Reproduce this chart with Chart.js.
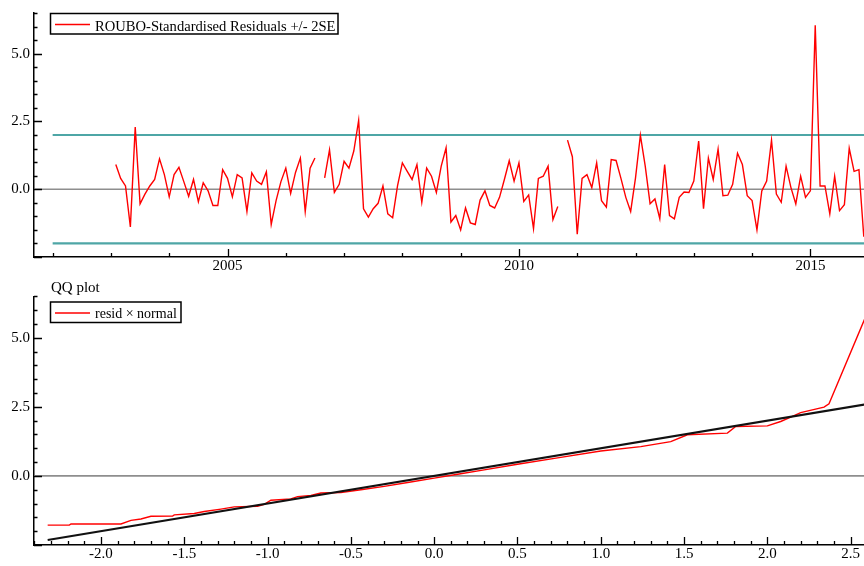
<!DOCTYPE html>
<html>
<head>
<meta charset="utf-8">
<script src="https://cdn.jsdelivr.net/npm/chart.js@4.4.0/dist/chart.umd.min.js"></script>
<style>
  html, body { margin: 0; padding: 0; background: #fff; overflow: hidden; }
  #wrap { position: relative; width: 864px; height: 566px; }
  canvas { position: absolute; left: 0; display: block; }
  #resChart { top: 0; }
  #qqChart { top: 278px; }
</style>
</head>
<body>
<div id="wrap">
  <canvas id="resChart" width="864" height="278"></canvas>
  <canvas id="qqChart" width="864" height="288"></canvas>
</div>
<script>
// ---- data ----
// monthly standardised residuals, first observation 2003(2); null = missing
const firstYear = 2003;
const firstMonth = 2;
const residuals = [
   0.91,  0.40,  0.12, -1.39,  2.29, -0.54, -0.18,  0.12,  0.36,  1.12,
   0.54, -0.28,  0.54,  0.81,  0.28, -0.26,  0.36, -0.46,  0.24, -0.06,
  -0.60, -0.60,  0.72,  0.40, -0.28,  0.54,  0.42, -0.82,  0.60,  0.30,
   0.18,  0.64, -1.30, -0.42,  0.28,  0.78, -0.15,  0.62,  1.15, -0.82,
   0.78,  1.15,  null,  0.42,  1.45, -0.12,  0.18,  1.03,  0.78,  1.41,
   2.54, -0.72, -1.03, -0.72, -0.52,  0.12, -0.91, -1.05,  0.12,  0.97,
   0.66,  0.36,  0.91, -0.48,  0.78,  0.48, -0.12,  0.85,  1.53, -1.21,
  -0.97, -1.50, -0.69, -1.24, -1.30, -0.40, -0.06, -0.60, -0.69, -0.30,
   0.36,  1.05,  0.30,  0.97, -0.45, -0.21, -1.45,  0.40,  0.48,  0.85,
  -1.12, -0.64,  null,  1.81,  1.20, -1.66,  0.40,  0.54,  0.06,  0.97,
  -0.42, -0.66,  1.09,  1.06,  0.40, -0.30, -0.82,  0.42,  1.99,  0.85,
  -0.54, -0.36, -1.09,  0.91, -0.97, -1.09, -0.30, -0.10, -0.12,  0.30,
   1.78, -0.72,  1.15,  0.36,  1.48, -0.24, -0.22,  0.18,  1.33,  0.91,
  -0.24, -0.42, -1.50, -0.06,  0.30,  1.81, -0.18, -0.48,  0.85,  0.06,
  -0.54,  0.48, -0.30, -0.06,  6.05,  0.12,  0.12, -0.91,  0.48, -0.79,
  -0.57,  1.51,  0.66,  0.72, -1.75
];
const seBand = 2;                 // +/- 2SE
const bandYears = [2002, 2016.5];
const yearRange = [2001.68, 2015.92];
const yearTickStep = 1;
const yearLabelEvery = 5;

// QQ plot: normal quantiles against sorted residuals
const qqNormal = [
  -2.32, -2.19, -2.18, -1.88, -1.82, -1.76, -1.70, -1.57, -1.56, -1.44,
  -1.38, -1.28, -1.20, -1.06, -1.02, -0.98, -0.86, -0.82, -0.74, -0.68,
  -0.56, -0.44, -0.30, -0.15,  0.00,  0.15,  0.30,  0.50,  0.75,  1.00,
   1.24,  1.42,  1.52,  1.76,  1.81,  2.00,  2.08,  2.14,  2.20,  2.34,
   2.37,  2.61
];
const qqResid = [
  -1.78, -1.78, -1.74, -1.74, -1.61, -1.56, -1.46, -1.45, -1.41, -1.36,
  -1.29, -1.20, -1.12, -1.10, -1.03, -0.88, -0.83, -0.75, -0.71, -0.62,
  -0.60, -0.50, -0.38, -0.23, -0.08,  0.07,  0.22,  0.42,  0.66,  0.90,
   1.06,  1.24,  1.49,  1.55,  1.79,  1.81,  1.97,  2.13,  2.29,  2.49,
   2.61,  6.05
];
const qqLineEnds = [-2.32, 2.64];
const qqRange = [-2.402, 2.58];
const qqTickStep = 0.1;
const qqLabelEvery = 0.5;

const valueRange = [-2.5, 6.5];
const valueTickStep = 0.5;
const valueLabelEvery = 2.5;

// ---- helpers ----
const SERIF = "'Liberation Serif', 'Times New Roman', serif";
Chart.defaults.font.family = SERIF;
Chart.defaults.font.size = 15;
Chart.defaults.color = '#000';

const isMultiple = (v, step) => Math.abs(v / step - Math.round(v / step)) < 1e-6;

const residPoints = residuals.map((v, i) => ({
  x: firstYear + (firstMonth - 1) / 12 + i / 12,
  y: v
}));

// short inward tick marks; longer ones where a label sits
const inwardTicks = {
  id: 'inwardTicks',
  afterDatasetsDraw(chart, args, o) {
    const { ctx, chartArea: a } = chart;
    const xs = chart.scales.x, ys = chart.scales.y;
    ctx.save();
    ctx.strokeStyle = '#000';
    ctx.lineWidth = 1.3;
    ctx.beginPath();
    for (const t of ys.ticks) {
      const p = Math.round(ys.getPixelForValue(t.value)) + 0.5;
      const len = isMultiple(t.value, o.yMajor) ? 8 : 3.5;
      ctx.moveTo(a.left, p);
      ctx.lineTo(a.left + len, p);
    }
    for (const t of xs.ticks) {
      const p = Math.round(xs.getPixelForValue(t.value)) + 0.5;
      const len = isMultiple(t.value, o.xMajor) ? 8 : 4;
      ctx.moveTo(p, a.bottom);
      ctx.lineTo(p, a.bottom - len);
    }
    ctx.stroke();
    ctx.restore();
  }
};

// framed legend inside the plot, plus an optional heading above the plot
const framedLegend = {
  id: 'framedLegend',
  afterDraw(chart, args, o) {
    const ctx = chart.ctx;
    const ds = chart.data.datasets[o.datasetIndex];
    ctx.save();
    if (o.heading) {
      ctx.font = '15px ' + SERIF;
      ctx.fillStyle = '#000';
      ctx.textBaseline = 'alphabetic';
      ctx.fillText(o.heading, o.headingX, o.headingY);
    }
    ctx.strokeStyle = '#000';
    ctx.lineWidth = 1.5;
    ctx.strokeRect(o.left, o.top, o.width, o.height);
    ctx.strokeStyle = ds.borderColor;
    ctx.lineWidth = 1.5;
    ctx.beginPath();
    ctx.moveTo(o.left + 4.5, o.top + 11);
    ctx.lineTo(o.left + 39.5, o.top + 11);
    ctx.stroke();
    ctx.font = o.fontSize + 'px ' + SERIF;
    ctx.fillStyle = '#000';
    ctx.textBaseline = 'alphabetic';
    ctx.fillText(ds.label, o.left + 44.5, o.top + o.baseline);
    ctx.restore();
  }
};

function axisX(range, step, labelEvery, height) {
  return {
    type: 'linear',
    min: range[0],
    max: range[1],
    afterFit: s => { s.height = height; },
    grid: { display: false, drawTicks: false },
    border: { display: true, color: '#000', width: 1.5 },
    ticks: {
      stepSize: step,
      includeBounds: false,
      autoSkip: false,
      maxRotation: 0,
      padding: 0,
      callback: v => isMultiple(v, labelEvery) ? (labelEvery < 1 ? v.toFixed(1) : String(Math.round(v))) : ''
    }
  };
}

function axisY() {
  return {
    type: 'linear',
    min: valueRange[0],
    max: valueRange[1],
    afterFit: s => { s.width = 34; },
    grid: { display: false, drawTicks: false },
    border: { display: true, color: '#000', width: 1.5 },
    ticks: {
      stepSize: valueTickStep,
      includeBounds: false,
      autoSkip: false,
      padding: 4,
      callback: v => (v >= 0 && isMultiple(v, valueLabelEvery)) ? v.toFixed(1) : ''
    }
  };
}

const lineBase = { pointRadius: 0, tension: 0, fill: false, spanGaps: false };

// ---- residuals over time ----
new Chart(document.getElementById('resChart'), {
  type: 'line',
  data: {
    datasets: [
      { ...lineBase, label: 'ROUBO-Standardised Residuals +/- 2SE', data: residPoints,
        borderColor: '#ff0000', borderWidth: 1.4 },
      { ...lineBase, label: '+2SE', data: bandYears.map(x => ({ x, y: seBand })),
        borderColor: '#4ea6a6', borderWidth: 2.2 },
      { ...lineBase, label: '-2SE', data: bandYears.map(x => ({ x, y: -seBand })),
        borderColor: '#4ea6a6', borderWidth: 2.2 },
      { ...lineBase, label: 'zero', data: yearRange.map(x => ({ x, y: 0 })),
        borderColor: '#8e8e8e', borderWidth: 1.6 }
    ]
  },
  options: {
    responsive: false,
    animation: false,
    devicePixelRatio: 1,
    parsing: false,
    layout: { padding: { top: 9.5, left: 0, right: 0, bottom: 0 } },
    plugins: {
      legend: { display: false },
      tooltip: { enabled: false },
      inwardTicks: { xMajor: yearLabelEvery, yMajor: valueLabelEvery },
      framedLegend: { datasetIndex: 0, left: 50.5, top: 13.5, width: 287.5, height: 20.5,
                      baseline: 17, fontSize: 14.6 }
    },
    scales: {
      x: axisX(yearRange, yearTickStep, yearLabelEvery, 21),
      y: axisY()
    }
  },
  plugins: [inwardTicks, framedLegend]
});

// ---- QQ plot ----
new Chart(document.getElementById('qqChart'), {
  type: 'line',
  data: {
    datasets: [
      { ...lineBase, label: 'reference', data: qqLineEnds.map(v => ({ x: v, y: v })),
        borderColor: '#111111', borderWidth: 2 },
      { ...lineBase, label: 'resid \u00d7 normal', data: qqNormal.map((x, i) => ({ x, y: qqResid[i] })),
        borderColor: '#ff0000', borderWidth: 1.4 },
      { ...lineBase, label: 'zero', data: qqRange.map(x => ({ x, y: 0 })),
        borderColor: '#8e8e8e', borderWidth: 1.6 }
    ]
  },
  options: {
    responsive: false,
    animation: false,
    devicePixelRatio: 1,
    parsing: false,
    layout: { padding: { top: 18.3, left: 0, right: 0, bottom: 0 } },
    plugins: {
      legend: { display: false },
      tooltip: { enabled: false },
      inwardTicks: { xMajor: qqLabelEvery, yMajor: valueLabelEvery },
      framedLegend: { datasetIndex: 1, left: 50.5, top: 24, width: 130.5, height: 20.5,
                      baseline: 16, fontSize: 14,
                      heading: 'QQ plot', headingX: 51, headingY: 13.5 }
    },
    scales: {
      x: axisX(qqRange, qqTickStep, qqLabelEvery, 21),
      y: axisY()
    }
  },
  plugins: [inwardTicks, framedLegend]
});
</script>
</body>
</html>
